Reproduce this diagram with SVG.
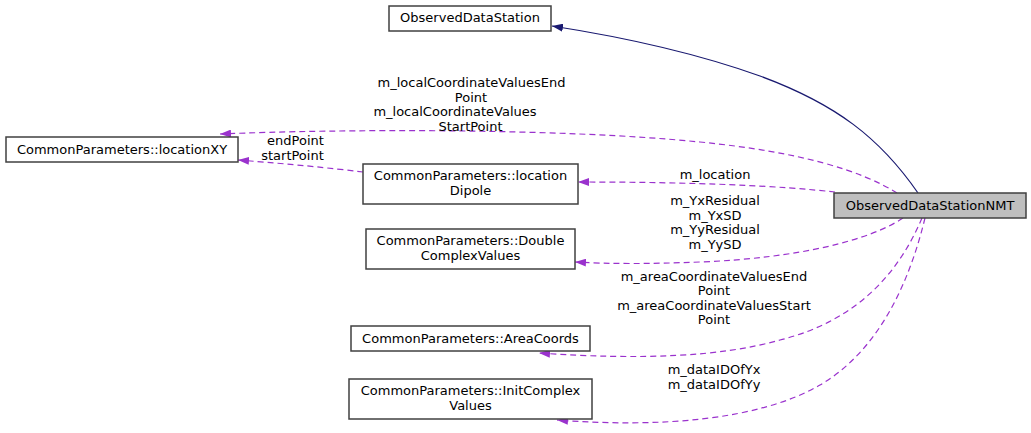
<svg xmlns="http://www.w3.org/2000/svg" width="1031" height="433" viewBox="0 0 1031 433">
<defs>
<style>
.node rect{fill:#ffffff;stroke:#404040;stroke-width:1.5}
.node.main rect{fill:#bfbfbf}
text{font-family:"DejaVu Sans","Liberation Sans",sans-serif;font-size:13px;fill:#000}
.lbl text{text-anchor:middle}
.node text{text-anchor:middle}
.inh{fill:none;stroke:#191970;stroke-width:1.2}
.use{fill:none;stroke:#9a32cd;stroke-width:1.2;stroke-dasharray:6,4}
</style>
<marker id="ah-navy" markerWidth="11" markerHeight="8" refX="11" refY="4" orient="auto" markerUnits="userSpaceOnUse">
<path d="M0,0 L11,4 L0,8 Z" fill="#191970"/>
</marker>
<marker id="ah-purple" markerWidth="11" markerHeight="8" refX="11" refY="4" orient="auto" markerUnits="userSpaceOnUse">
<path d="M0,0 L11,4 L0,8 Z" fill="#9a32cd"/>
</marker>
</defs>
<rect width="1031" height="433" fill="#ffffff"/>

<g id="connectors">
<path class="inh" d="M918,193 C880,138 836,104 760,76 C690,51 610,35 552,26" marker-end="url(#ah-navy)"/>
<path class="use" d="M897,193 C860,170 800,152 700,142 C560,128 340,129 220,134" marker-end="url(#ah-purple)"/>
<path class="use" d="M363,172 C330,168 290,164 238,160" marker-end="url(#ah-purple)"/>
<path class="use" d="M835,192 C780,186 700,182 578,182" marker-end="url(#ah-purple)"/>
<path class="use" d="M903,218 C870,240 800,258 700,262 C650,264 610,264 575,262" marker-end="url(#ah-purple)"/>
<path class="use" d="M922,218 C900,270 860,320 780,340 C720,357 640,360 539,353" marker-end="url(#ah-purple)"/>
<path class="use" d="M925,218 C910,280 880,350 820,385 C760,420 660,428 557,420" marker-end="url(#ah-purple)"/>
</g>

<g id="labels" class="lbl">
<text x="471.5" y="87">m_localCoordinateValuesEnd</text>
<text x="471" y="101.5">Point</text>
<text x="455" y="116">m_localCoordinateValues</text>
<text x="470.5" y="130.5">StartPoint</text>
<text x="295.5" y="145">endPoint</text>
<text x="292.5" y="159.5">startPoint</text>
<text x="715" y="178.5">m_location</text>
<text x="715" y="205">m_YxResidual</text>
<text x="715" y="219.5">m_YxSD</text>
<text x="715" y="234">m_YyResidual</text>
<text x="715" y="248.5">m_YySD</text>
<text x="714" y="280.5">m_areaCoordinateValuesEnd</text>
<text x="714" y="295">Point</text>
<text x="714" y="309.5">m_areaCoordinateValuesStart</text>
<text x="714" y="324">Point</text>
<text x="714" y="374">m_dataIDOfYx</text>
<text x="714" y="388.5">m_dataIDOfYy</text>
</g>

<g id="node-ObservedDataStationNMT" class="node main">
<rect x="834" y="193" width="192" height="25"/>
<text x="930" y="209.5">ObservedDataStationNMT</text>
</g>
<g id="node-ObservedDataStation" class="node">
<rect x="389" y="6" width="162" height="25"/>
<text x="470" y="22">ObservedDataStation</text>
</g>
<g id="node-locationXY" class="node">
<rect x="6" y="137" width="232" height="25"/>
<text x="122" y="153.5">CommonParameters::locationXY</text>
</g>
<g id="node-locationDipole" class="node">
<rect x="363" y="164" width="215" height="40"/>
<text x="470.5" y="180">CommonParameters::location</text>
<text x="470.5" y="194.5">Dipole</text>
</g>
<g id="node-DoubleComplexValues" class="node">
<rect x="366" y="229" width="209" height="40"/>
<text x="470.5" y="245">CommonParameters::Double</text>
<text x="470.5" y="259.5">ComplexValues</text>
</g>
<g id="node-AreaCoords" class="node">
<rect x="351" y="326" width="239" height="25"/>
<text x="470.5" y="342.5">CommonParameters::AreaCoords</text>
</g>
<g id="node-InitComplexValues" class="node">
<rect x="349" y="379" width="243" height="40"/>
<text x="470.5" y="395">CommonParameters::InitComplex</text>
<text x="470.5" y="409.5">Values</text>
</g>
</svg>
